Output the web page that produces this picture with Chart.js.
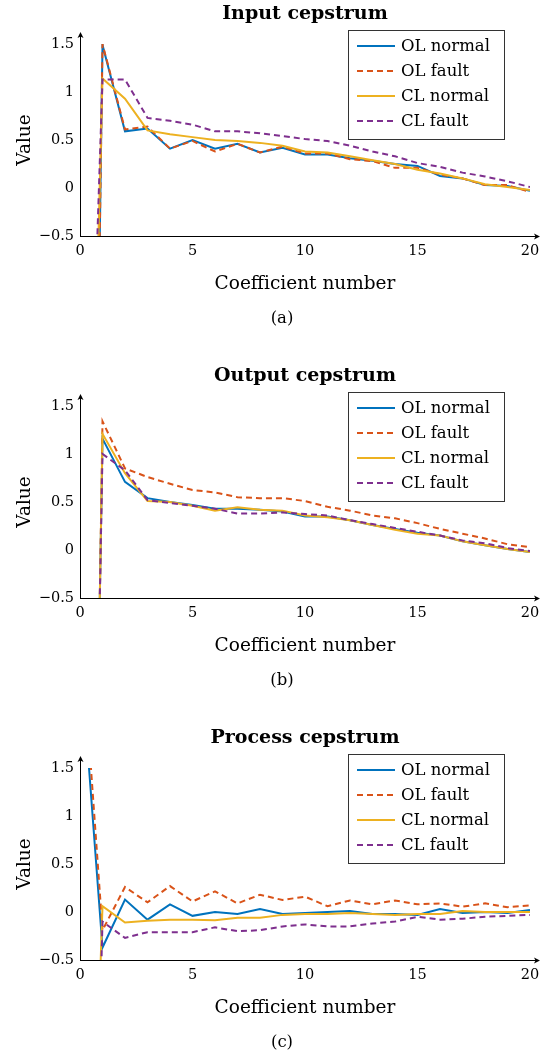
<!DOCTYPE html>
<html><head><meta charset="utf-8">
<script src="https://cdn.jsdelivr.net/npm/chart.js@4.4.0/dist/chart.umd.min.js"></script>
<style>
html,body{margin:0;padding:0;background:#fff;overflow:hidden;}
#wrap{position:relative;width:552px;height:1057px;}
canvas{position:absolute;left:0;width:552px;height:333px;}
</style></head><body>
<div id="wrap">
<canvas id="c1" width="552" height="333" style="top:0px"></canvas>
<canvas id="c2" width="552" height="333" style="top:362px"></canvas>
<canvas id="c3" width="552" height="333" style="top:724px"></canvas>
</div>
<script>
// ---- data ----
const coefficients = [0,1,2,3,4,5,6,7,8,9,10,11,12,13,14,15,16,17,18,19,20];
const seriesNames = ['OL normal','OL fault','CL normal','CL fault'];
const panelTitles = ['Input cepstrum','Output cepstrum','Process cepstrum'];
const panelCaptions = ['(a)','(b)','(c)'];
const xTickValues = [0,5,10,15,20];
const yTickValues = [-0.5,0,0.5,1,1.5];
const xAxisLabel = 'Coefficient number';
const yAxisLabel = 'Value';

const inputOLNormal  = [-15, 1.49, 0.59, 0.62, 0.41, 0.50, 0.41, 0.46, 0.37, 0.42, 0.35, 0.35, 0.31, 0.285, 0.25, 0.23, 0.125, 0.10, 0.03, 0.02, -0.03];
const inputOLFault   = [-15, 1.50, 0.61, 0.64, 0.41, 0.49, 0.38, 0.46, 0.37, 0.43, 0.36, 0.36, 0.30, 0.28, 0.21, 0.21, 0.14, 0.10, 0.03, 0.03, -0.04];
const inputCLNormal  = [-8, 1.14, 0.93, 0.60, 0.56, 0.53, 0.50, 0.49, 0.47, 0.44, 0.38, 0.37, 0.33, 0.29, 0.25, 0.19, 0.15, 0.10, 0.04, 0.01, -0.02];
const inputCLFault   = [-6, 1.13, 1.13, 0.73, 0.70, 0.66, 0.59, 0.59, 0.57, 0.54, 0.51, 0.49, 0.44, 0.38, 0.33, 0.26, 0.22, 0.16, 0.12, 0.07, 0.01];

const outputOLNormal = [-12.7, 1.16, 0.71, 0.54, 0.50, 0.47, 0.43, 0.43, 0.42, 0.40, 0.35, 0.35, 0.31, 0.26, 0.22, 0.18, 0.15, 0.09, 0.05, 0.01, -0.02];
const outputOLFault  = [-14, 1.34, 0.85, 0.76, 0.69, 0.625, 0.60, 0.55, 0.54, 0.54, 0.51, 0.45, 0.41, 0.36, 0.33, 0.28, 0.22, 0.17, 0.12, 0.06, 0.03];
const outputCLNormal = [-13, 1.21, 0.80, 0.51, 0.50, 0.46, 0.41, 0.445, 0.42, 0.41, 0.36, 0.34, 0.31, 0.26, 0.21, 0.17, 0.15, 0.09, 0.05, 0.01, -0.02];
const outputCLFault  = [-11.5, 1.00, 0.83, 0.52, 0.49, 0.46, 0.43, 0.38, 0.38, 0.39, 0.375, 0.36, 0.31, 0.27, 0.23, 0.19, 0.15, 0.10, 0.07, 0.02, -0.01];

const processOLNormal = [2.75, -0.37, 0.13, -0.08, 0.08, -0.04, 0.00, -0.02, 0.03, -0.02, -0.01, 0.00, 0.01, -0.02, -0.02, -0.03, 0.03, -0.01, 0.00, -0.01, 0.02];
const processOLFault  = [3.1, -0.19, 0.26, 0.10, 0.27, 0.11, 0.215, 0.09, 0.18, 0.125, 0.16, 0.06, 0.12, 0.08, 0.12, 0.08, 0.09, 0.055, 0.09, 0.05, 0.07];
const processCLNormal = [-6.9, 0.06, -0.11, -0.09, -0.08, -0.08, -0.085, -0.06, -0.06, -0.03, -0.02, -0.02, -0.01, -0.02, -0.03, -0.02, -0.02, 0.01, 0.00, 0.00, 0.00];
const processCLFault  = [-9, -0.10, -0.27, -0.21, -0.21, -0.21, -0.16, -0.20, -0.19, -0.15, -0.13, -0.15, -0.15, -0.12, -0.10, -0.05, -0.08, -0.07, -0.05, -0.04, -0.03];

const panels = [
  [inputOLNormal, inputOLFault, inputCLNormal, inputCLFault],
  [outputOLNormal, outputOLFault, outputCLNormal, outputCLFault],
  [processOLNormal, processOLFault, processCLNormal, processCLFault]
];

// ---- styles ----
const colors = ['#0072BD', '#D95319', '#EDB120', '#7E2F8E'];
const dashes = [[], [6, 4], [], [6, 4]];
const SERIF = '"DejaVu Serif", serif';

const decor = {
  id: 'decor',
  afterDraw(chart, args, opts) {
    const ctx = chart.ctx, a = chart.chartArea;
    ctx.save();
    // axis arrows
    ctx.strokeStyle = '#000'; ctx.fillStyle = '#000'; ctx.lineWidth = 1;
    const yb = Math.round(a.bottom) + 0.5, xl = Math.round(a.left) + 0.5;
    ctx.beginPath(); ctx.moveTo(a.right - 1, yb); ctx.lineTo(a.right + 8, yb); ctx.stroke();
    ctx.beginPath(); ctx.moveTo(a.right + 10, yb); ctx.lineTo(a.right + 4, yb - 3); ctx.lineTo(a.right + 5.5, yb); ctx.lineTo(a.right + 4, yb + 3); ctx.closePath(); ctx.fill();
    ctx.beginPath(); ctx.moveTo(xl, a.top + 1); ctx.lineTo(xl, a.top - 8); ctx.stroke();
    ctx.beginPath(); ctx.moveTo(xl, a.top - 12); ctx.lineTo(xl - 3, a.top - 6); ctx.lineTo(xl, a.top - 7.5); ctx.lineTo(xl + 3, a.top - 6); ctx.closePath(); ctx.fill();
    // title & caption
    ctx.fillStyle = '#000';
    ctx.textAlign = 'center'; ctx.textBaseline = 'alphabetic';
    ctx.font = 'bold 19px ' + SERIF;
    ctx.fillText(opts.title, (a.left + a.right) / 2, 19);
    ctx.font = '16.5px ' + SERIF;
    ctx.textBaseline = 'middle';
    ctx.fillText(opts.caption, 282, 319);
    // legend box
    const bx = 348.5, by = 30.5, bw = 156, bh = 109;
    ctx.fillStyle = '#fff'; ctx.fillRect(bx, by, bw, bh);
    ctx.strokeStyle = '#333'; ctx.lineWidth = 1; ctx.strokeRect(bx, by, bw, bh);
    ctx.font = '16.5px ' + SERIF; ctx.textAlign = 'left'; ctx.textBaseline = 'middle';
    chart.data.datasets.forEach((ds, i) => {
      const cy = 46 + i * 25;
      ctx.save();
      ctx.strokeStyle = ds.borderColor; ctx.lineWidth = ds.borderWidth;
      ctx.setLineDash(ds.borderDash || []);
      ctx.beginPath(); ctx.moveTo(357, cy); ctx.lineTo(395, cy); ctx.stroke();
      ctx.restore();
      ctx.fillStyle = '#000';
      ctx.fillText(ds.label, 401, cy + 1);
    });
    ctx.restore();
  }
};

function fmt(v) {
  return v < 0 ? '\u2212' + String(Math.abs(v)) : String(v);
}

panels.forEach((series, p) => {
  new Chart(document.getElementById('c' + (p + 1)), {
    type: 'line',
    data: {
      datasets: series.map((vals, i) => ({
        label: seriesNames[i],
        data: coefficients.map((c, k) => ({x: c, y: vals[k]})),
        borderColor: colors[i],
        borderWidth: 2,
        borderDash: dashes[i],
        pointRadius: 0,
        tension: 0,
        fill: false,
        order: 3 - i
      }))
    },
    options: {
      responsive: false,
      animation: false,
      events: [],
      layout: {padding: {top: 44, right: 22, left: 0, bottom: 37}},
      plugins: {
        legend: {display: false},
        tooltip: {enabled: false},
        title: {display: false},
        decor: {title: panelTitles[p], caption: panelCaptions[p]}
      },
      scales: {
        x: {
          type: 'linear', min: 0, max: 20,
          grid: {display: false, drawTicks: false},
          border: {display: true, color: '#000', width: 1},
          afterBuildTicks: s => { s.ticks = xTickValues.map(v => ({value: v})); },
          afterFit: s => { s.height = 60; },
          ticks: {color: '#000', padding: 7, maxRotation: 0, autoSkip: false,
                  font: {family: SERIF, size: 14.5}, callback: v => fmt(v)},
          title: {display: true, text: xAxisLabel, color: '#000',
                  font: {family: SERIF, size: 18.5}, padding: {top: 0, bottom: 1}}
        },
        y: {
          type: 'linear', min: -0.5, max: 1.5,
          grid: {display: false, drawTicks: false},
          border: {display: true, color: '#000', width: 1},
          afterBuildTicks: s => { s.ticks = yTickValues.map(v => ({value: v})); },
          afterFit: s => { s.width = 80; },
          ticks: {color: '#000', padding: 6, autoSkip: false,
                  font: {family: SERIF, size: 14.5}, callback: v => fmt(v)},
          title: {display: true, text: yAxisLabel, color: '#000',
                  font: {family: SERIF, size: 18.5}, padding: {top: 14, bottom: 0}}
        }
      }
    },
    plugins: [decor]
  });
});
</script>
</body></html>
